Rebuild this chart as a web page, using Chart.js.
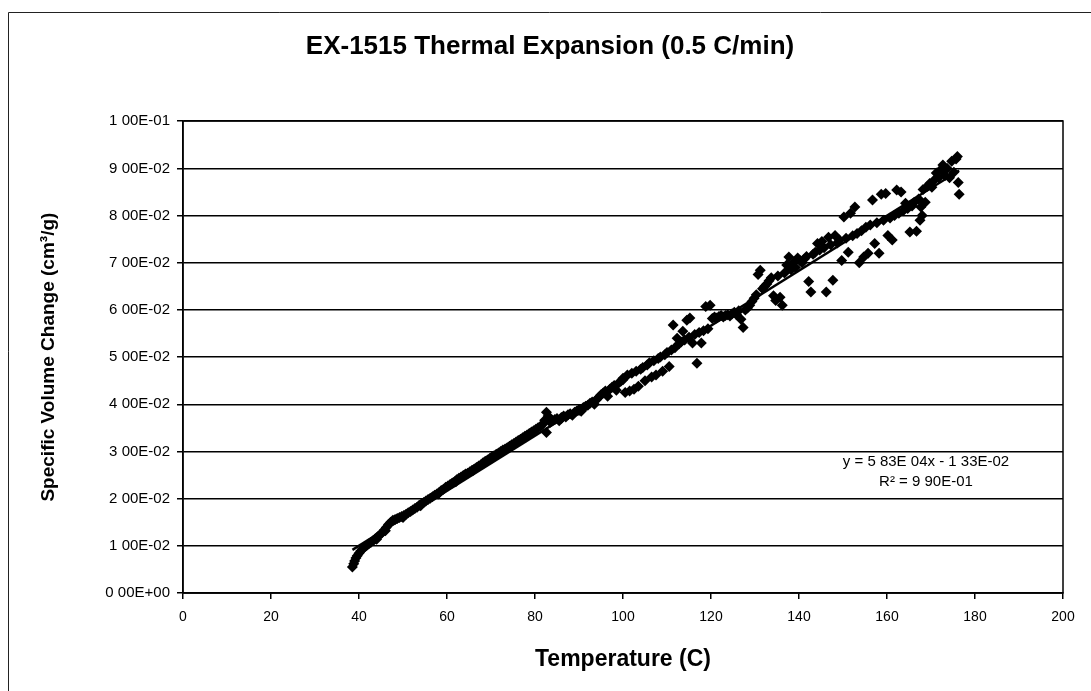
<!DOCTYPE html>
<html>
<head>
<meta charset="utf-8">
<script src="https://cdn.jsdelivr.net/npm/chart.js@4.4.1/dist/chart.umd.min.js"></script>
<style>
  html, body { margin: 0; padding: 0; background: #fff; }
  #wrap { width: 1091px; height: 691px; position: relative; }
</style>
</head>
<body>
<div id="wrap"><canvas id="c" width="1091" height="691"></canvas></div>
<script>
const chartTitle = "EX-1515 Thermal Expansion (0.5 C/min)";
const xAxisTitle = "Temperature (C)";
const yAxisTitle = "Specific Volume Change (cm\u00B3/g)";
const yTickLabels = ["0 00E+00","1 00E-02","2 00E-02","3 00E-02","4 00E-02","5 00E-02","6 00E-02","7 00E-02","8 00E-02","9 00E-02","1 00E-01"];
const xTickValues = [0,20,40,60,80,100,120,140,160,180,200];
const equationLines = ["y = 5 83E 04x - 1 33E-02", "R\u00B2 = 9 90E-01"];
const fitSlope = 5.83e-4;
const fitIntercept = -1.33e-2;

const temperatureC = [
 38.5,38.8,39.0,39.3,39.6,40.0,40.4,40.8,41.2,41.7,42.2,42.7,43.2,43.7,44.2,44.7,45.2,45.7,46.2,46.7,
 47.2,47.7,48.2,48.7,49.2,49.7,50.2,50.7,51.2,51.7,52.2,52.7,53.2,53.7,54.2,54.7,55.2,55.7,56.2,56.7,
 57.2,57.7,58.2,58.7,59.2,59.7,60.2,60.7,61.2,61.7,62.2,62.7,63.2,63.7,64.2,64.7,65.2,65.7,66.2,66.7,
 67.2,67.7,68.2,68.7,69.2,69.7,70.2,70.7,71.2,71.7,72.2,72.7,73.2,73.7,74.2,74.7,75.2,75.7,76.2,76.7,
 77.2,77.7,78.2,78.7,79.2,79.7,
 80.2,80.7,81.2,81.7,82.2,82.6,83.0,82.6,83.5,84.0,84.5,85.0,85.5,86.0,86.5,87.0,87.5,88.0,88.5,89.0,
 89.5,90.0,90.5,91.0,91.5,92.0,92.5,93.0,93.5,94.0,94.5,95.0,95.5,96.0,96.5,97.0,97.5,98.0,98.5,99.0,
 99.5,100.0,100.5,101.0,101.5,102.0,102.5,103.0,103.5,104.0,104.5,105.0,105.5,106.0,106.5,107.0,107.5,108.0,108.5,109.0,
 109.5,110.0,110.5,111.0,111.4,111.8,112.3,112.7,113.2,113.6,114.0,114.5,115.0,115.2,115.8,116.3,116.8,117.3,117.8,118.3,
 118.8,119.3,119.8,120.3,120.8,121.3,121.8,122.3,122.8,123.3,123.8,124.3,124.8,125.3,125.8,126.3,126.8,127.3,127.8,128.3,
 128.8,129.3,129.8,130.3,130.7,131.2,131.7,132.2,132.7,133.2,133.7,134.2,134.7,135.2,135.7,136.2,136.7,137.2,137.7,138.2,
 138.7,139.2,139.7,140.2,140.7,141.2,141.7,142.2,142.7,143.2,143.7,144.2,144.7,145.2,145.7,146.2,146.7,147.2,147.7,148.2,
 148.7,149.2,149.7,150.2,150.7,151.2,151.7,152.2,152.7,153.2,153.7,154.2,154.7,155.2,155.7,156.2,156.7,157.2,157.7,158.2,
 158.7,159.2,159.7,160.2,160.7,161.2,161.7,162.2,162.7,163.2,163.7,164.2,164.7,165.2,165.7,166.2,166.7,167.2,167.5,167.7,
 168.0,168.2,168.7,169.2,169.7,170.2,170.7,171.2,171.7,172.2,172.7,173.2,173.7,174.2,174.7,175.2,175.7,176.0,176.2,176.4,
 44.0,46.0,50.0,54.0,58.0,62.0,66.0,70.0,74.0,78.0,86.0,90.0,96.0,100.0
];
const volumeChange = [
 0.0055,0.0062,0.0068,0.0074,0.0079,0.0084,0.0089,0.0093,0.0097,0.0100,0.0104,0.0107,0.0111,0.0115,0.0119,0.0123,0.0127,0.0133,0.0139,0.0145,
 0.0150,0.0154,0.0156,0.0158,0.0160,0.0162,0.0164,0.0167,0.0170,0.0173,0.0176,0.0179,0.0182,0.0186,0.0189,0.0192,0.0195,0.0198,0.0201,0.0204,
 0.0207,0.0210,0.0213,0.0217,0.0220,0.0224,0.0227,0.0230,0.0233,0.0236,0.0240,0.0243,0.0246,0.0249,0.0252,0.0254,0.0257,0.0260,0.0263,0.0266,
 0.0269,0.0272,0.0276,0.0279,0.0282,0.0285,0.0288,0.0291,0.0294,0.0297,0.0300,0.0303,0.0305,0.0308,0.0311,0.0314,0.0317,0.0320,0.0323,0.0326,
 0.0329,0.0332,0.0335,0.0338,0.0341,0.0344,
 0.0347,0.0350,0.0353,0.0357,0.0366,0.0383,0.0375,0.0340,0.0362,0.0365,0.0368,0.0370,0.0365,0.0372,0.0375,0.0373,0.0378,0.0380,0.0377,0.0383,
 0.0386,0.0389,0.0385,0.0393,0.0396,0.0398,0.0402,0.0405,0.0400,0.0410,0.0415,0.0420,0.0424,0.0428,0.0417,0.0432,0.0436,0.0440,0.0430,0.0445,
 0.0449,0.0455,0.0425,0.0462,0.0428,0.0466,0.0432,0.0470,0.0438,0.0474,0.0478,0.0450,0.0483,0.0488,0.0458,0.0492,0.0462,0.0497,0.0500,0.0470,
 0.0505,0.0510,0.0480,0.0515,0.0568,0.0520,0.0540,0.0528,0.0532,0.0555,0.0536,0.0578,0.0542,0.0583,0.0530,0.0548,0.0487,0.0552,0.0530,0.0556,
 0.0607,0.0560,0.0610,0.0582,0.0585,0.0583,0.0586,0.0588,0.0585,0.0588,0.0590,0.0587,0.0592,0.0595,0.0590,0.0598,0.0580,0.0563,0.0600,0.0604,
 0.0610,0.0618,0.0625,0.0632,0.0675,0.0684,0.0645,0.0650,0.0655,0.0662,0.0668,0.0630,0.0620,0.0672,0.0627,0.0610,0.0678,0.0695,0.0712,0.0685,
 0.0700,0.0690,0.0710,0.0705,0.0700,0.0708,0.0713,0.0660,0.0638,0.0718,0.0722,0.0741,0.0727,0.0745,0.0732,0.0638,0.0754,0.0738,0.0663,0.0758,
 0.0742,0.0748,0.0705,0.0797,0.0752,0.0722,0.0805,0.0757,0.0818,0.0762,0.0700,0.0768,0.0712,0.0775,0.0720,0.0780,0.0833,0.0741,0.0785,0.0720,
 0.0845,0.0790,0.0847,0.0758,0.0795,0.0748,0.0800,0.0854,0.0805,0.0850,0.0810,0.0826,0.0815,0.0765,0.0820,0.0828,0.0767,0.0835,0.0790,0.0818,
 0.0800,0.0855,0.0828,0.0862,0.0868,0.0860,0.0875,0.0890,0.0880,0.0897,0.0907,0.0885,0.0900,0.0880,0.0915,0.0892,0.0920,0.0925,0.0870,0.0845,
 0.0114,0.0132,0.0160,0.0185,0.0210,0.0236,0.0260,0.0286,0.0308,0.0331,0.0370,0.0387,0.0424,0.0452
];

const points = temperatureC.map((t, i) => ({ x: t, y: volumeChange[i] }));
const tMin = Math.min(...temperatureC), tMax = Math.max(...temperatureC);
const fitLine = [tMin, tMax].map(t => ({ x: t, y: fitSlope * t + fitIntercept }));

const FONT = "'Liberation Sans', Arial, sans-serif";

const framePlugin = {
  id: 'frame',
  beforeDraw(chart) {
    const ctx = chart.ctx;
    ctx.save();
    ctx.fillStyle = '#fff';
    ctx.fillRect(0, 0, chart.width, chart.height);
    ctx.strokeStyle = '#222';
    ctx.lineWidth = 1;
    ctx.beginPath();
    ctx.moveTo(8.5, chart.height);
    ctx.lineTo(8.5, 12.5);
    ctx.lineTo(chart.width, 12.5);
    ctx.stroke();
    ctx.restore();
  },
  afterDatasetsDraw(chart) {
    const ctx = chart.ctx;
    const a = chart.chartArea;
    ctx.save();
    ctx.strokeStyle = '#000';
    ctx.lineWidth = 1.5;
    ctx.strokeRect(Math.round(a.left), Math.round(a.top), Math.round(a.right - a.left), Math.round(a.bottom - a.top));
    ctx.fillStyle = '#000';
    ctx.font = "15px " + FONT;
    ctx.textAlign = 'center';
    ctx.textBaseline = 'middle';
    const cx = a.right - 137;
    ctx.fillText(equationLines[0], cx, a.top + 341);
    ctx.fillText(equationLines[1], cx, a.top + 361);
    ctx.restore();
  }
};

new Chart(document.getElementById('c'), {
  type: 'scatter',
  data: {
    datasets: [
      {
        label: 'data',
        data: points,
        pointStyle: 'rectRot',
        pointRadius: 5.5,
        pointHoverRadius: 5.5,
        backgroundColor: '#000',
        borderColor: '#000',
        borderWidth: 0,
        showLine: false,
        order: 2
      },
      {
        label: 'fit',
        type: 'line',
        data: fitLine,
        borderColor: '#000',
        borderWidth: 2.5,
        pointRadius: 0,
        fill: false,
        order: 1
      }
    ]
  },
  options: {
    responsive: false,
    animation: false,
    events: [],
    layout: { padding: { top: 0, left: 37, right: 28, bottom: 0 } },
    plugins: {
      legend: { display: false },
      tooltip: { enabled: false },
      title: {
        display: true,
        text: chartTitle,
        color: '#000',
        font: { family: FONT, size: 26, weight: 'bold', lineHeight: 1.2 },
        padding: { top: 31, bottom: 59 }
      }
    },
    scales: {
      x: {
        type: 'linear',
        min: 0, max: 200,
        afterBuildTicks(scale) { scale.ticks = xTickValues.map(v => ({ value: v })); },
        afterFit(scale) { scale.height = 98; },
        grid: { drawOnChartArea: false, drawTicks: true, tickLength: 6, color: '#000', lineWidth: 1.5 },
        border: { display: true, color: '#000', width: 1.5 },
        ticks: { color: '#000', font: { family: FONT, size: 14 }, padding: 10, maxRotation: 0 },
        title: { display: true, text: xAxisTitle, color: '#000', font: { family: FONT, size: 23, weight: 'bold', lineHeight: 1.2 }, padding: { top: 0, bottom: 18 } }
      },
      y: {
        type: 'linear',
        min: 0, max: 0.1,
        afterBuildTicks(scale) { scale.ticks = yTickLabels.map((_, i) => ({ value: i / 100 })); },
        afterFit(scale) { scale.width = 146; },
        grid: { color: '#000', lineWidth: 1.5, drawTicks: true, tickLength: 6 },
        border: { display: true, color: '#000', width: 1.5 },
        ticks: { color: '#000', font: { family: FONT, size: 15 }, padding: 7, callback: (v, i) => yTickLabels[i] },
        title: { display: true, text: yAxisTitle, color: '#000', font: { family: FONT, size: 19, weight: 'bold', lineHeight: 1.2 }, padding: { top: 0, bottom: 0 } }
      }
    }
  },
  plugins: [framePlugin]
});
</script>
</body>
</html>
